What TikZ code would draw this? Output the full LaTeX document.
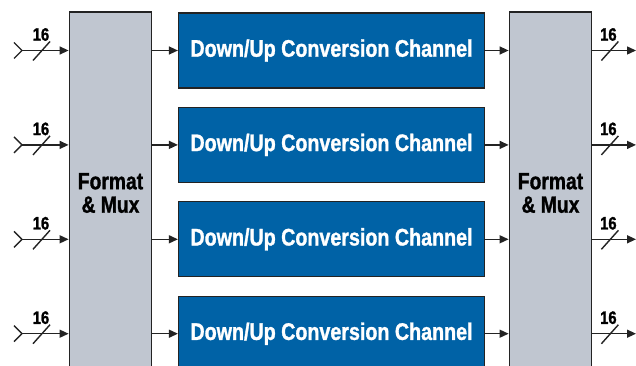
\documentclass[tikz,border=0pt]{standalone}
\usepackage{fontspec}
\newfontfamily\condfont{Liberation Sans}[FakeStretch=0.82, BoldFeatures={FakeBold=1.2}]
\usetikzlibrary{arrows.meta}
\definecolor{muxgray}{RGB}{192,198,208}
\definecolor{chanblue}{RGB}{0,98,166}
\definecolor{edgeclr}{RGB}{35,35,35}
\begin{document}
\begin{tikzpicture}[x=1pt,y=-1pt,
  mux/.style={draw=edgeclr, line width=1.8pt, fill=muxgray, minimum width=82pt, minimum height=362pt,
    align=center, inner sep=0pt, font=\condfont\bfseries\fontsize{23.5}{23.5}\selectfont},
  chan/.style={draw=edgeclr, line width=1.2pt, fill=chanblue, text=white, minimum width=306pt,
    minimum height=75pt, inner sep=0pt, font=\condfont\bfseries\fontsize{24}{28}\selectfont},
  bus/.style={line width=1.4pt, draw=edgeclr, -{Triangle[length=9pt,width=8pt]}},
  wire/.style={line width=1.4pt, draw=edgeclr},
  buswidth/.style={font=\condfont\bfseries\fontsize{18}{18}\selectfont, inner sep=0pt}]
\useasboundingbox (0,0) rectangle (636,366);
\clip (0,0) rectangle (636,366);
% format and mux blocks
\node[mux] (fmtL) at (110.5,193) {Format\\\& Mux};
\node[mux] (fmtR) at (550.5,193) {Format\\\& Mux};
% four channels
\foreach \i/\y in {1/50.5,2/144.9,3/239.3,4/333.7} {
  \node[chan] (ch\i) at (331.5,\y) {Down/Up Conversion Channel};
  \coordinate (in\i) at (22,\y);
  \coordinate (out\i) at (636,\y);
  \draw[bus] (fmtL.east |- ch\i.west) -- (ch\i.west);
  \draw[bus] (ch\i.east) -- (fmtR.west |- ch\i.east);
  % inputs
  \draw[bus] (in\i) -- (fmtL.west |- in\i);
  \draw[wire] (in\i) -- ++(-8,-8) (in\i) -- ++(-8,8);
  \draw[wire] ([shift={(11,10)}]in\i) -- ++(17,-19);
  \node[buswidth] (wl\i) at ([shift={(19,-16)}]in\i) {16};
  % outputs
  \draw[bus] (fmtR.east |- out\i) -- (out\i);
  \draw[wire] ([shift={(9,10)}]fmtR.east |- out\i) -- ++(17,-19);
  \node[buswidth] (wr\i) at ([shift={(16,-16)}]fmtR.east |- out\i) {16};
}
\end{tikzpicture}
\end{document}
